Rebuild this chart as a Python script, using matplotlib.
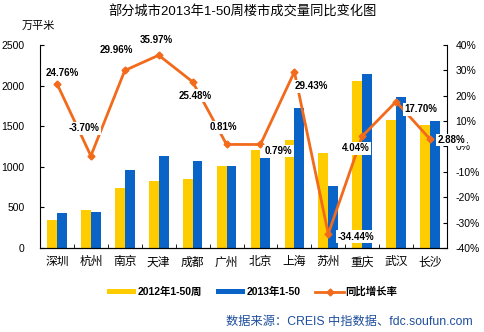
import matplotlib
matplotlib.use("Agg")
import matplotlib.pyplot as plt
import numpy as np

plt.rcParams['font.family'] = ['Liberation Sans', 'Noto Sans CJK SC', 'DejaVu Sans']

cities = ['深圳', '杭州', '南京', '天津', '成都', '广州', '北京', '上海', '苏州', '重庆', '武汉', '长沙']
v2012 = [348, 463, 742, 828, 848, 1004, 1209, 1332, 1168, 2061, 1578, 1516]
v2013 = [430, 443, 963, 1127, 1066, 1008, 1110, 1721, 766, 2143, 1857, 1566]
growth = [24.76, -3.70, 29.96, 35.97, 25.48, 0.81, 0.79, 29.43, -34.44, 4.04, 17.70, 2.88]
growth_labels = ['24.76%', '-3.70%', '29.96%', '35.97%', '25.48%', '0.81%', '0.79%',
                 '29.43%', '-34.44%', '4.04%', '17.70%', '2.88%']
# label offsets in points (dx, dy) relative to the data point
label_offsets = [(3.6, 7.6), (-5, 20), (-6, 15), (-2, 11), (1.8, -10), (-2, 12.5),
                 (13, -4.7), (12, -10.3), (20, -2), (-4.5, -8.5), (17.5, -5.4), (15.5, -0.6)]

W, H = 484, 332
fig = plt.figure(figsize=(W / 100, H / 100), dpi=100)
ax = fig.add_axes([40 / W, 1 - 248 / H, 407 / W, 203 / H])
ax2 = ax.twinx()

x = np.arange(len(cities))
bw = 0.29
yellow = '#FFCC00'
blue = '#0A64C8'
orange = '#F26A1B'
b1 = ax.bar(x - bw / 2, v2012, bw, color=yellow, label='2012年1-50周', zorder=2)
b2 = ax.bar(x + bw / 2, v2013, bw, color=blue, label='2013年1-50', zorder=2)

ax.set_xlim(-0.5, len(cities) - 0.5)
ax.set_ylim(0, 2500)
ax.set_yticks([0, 500, 1000, 1500, 2000, 2500])
ax.set_xticks(x)
ax.set_xticklabels(cities, fontsize=8.5)
ax.set_xticks(np.arange(-0.5, len(cities), 1), minor=True)
ax.tick_params(axis='x', which='major', length=0, pad=6)
ax.tick_params(axis='x', which='minor', length=3, direction='in')
ax.tick_params(axis='y', labelsize=7.5, direction='in', length=3, pad=11)
ax.spines['top'].set_visible(False)
ax.spines['right'].set_visible(False)

ax2.set_ylim(-40, 40)
ax2.set_yticks(np.arange(-40, 41, 10))
ax2.set_yticklabels([f'{v}%' for v in range(-40, 41, 10)])
ax2.tick_params(axis='y', labelsize=7.5, direction='in', length=3, pad=6)
ax2.spines['top'].set_visible(False)
ax2.spines['left'].set_visible(False)

ln, = ax2.plot(x, growth, color=orange, lw=2, marker='D', ms=3.5, label='同比增长率', zorder=3)
for xi, yi, t, (dx, dy) in zip(x, growth, growth_labels, label_offsets):
    ax2.annotate(t, (xi, yi), xytext=(dx, dy), textcoords='offset points', ha='center', va='center',
                 fontsize=7, fontweight='bold',
                 bbox=dict(boxstyle='square,pad=0.15', fc='white', ec='none'), zorder=5)

fig.text(0.5, 1 - 12 / H, '部分城市2013年1-50周楼市成交量同比变化图', ha='center', va='center', fontsize=9.5)
fig.text(38 / W, 1 - 26 / H, '万平米', ha='center', va='center', fontsize=8)

fig.legend(handles=[b1, b2, ln], loc='center', bbox_to_anchor=(252 / W, 1 - 292 / H), ncol=3, frameon=False,
           handlelength=2.8, handleheight=0.5, columnspacing=1.4, handletextpad=0.1,
           prop={'weight': 'bold', 'size': 7.5})
fig.text(473 / W, 1 - 322 / H, '数据来源：CREIS 中指数据、fdc.soufun.com', ha='right', va='center',
         fontsize=8.8, color='#1F4E9E')

fig.savefig('out.png', dpi=100)
